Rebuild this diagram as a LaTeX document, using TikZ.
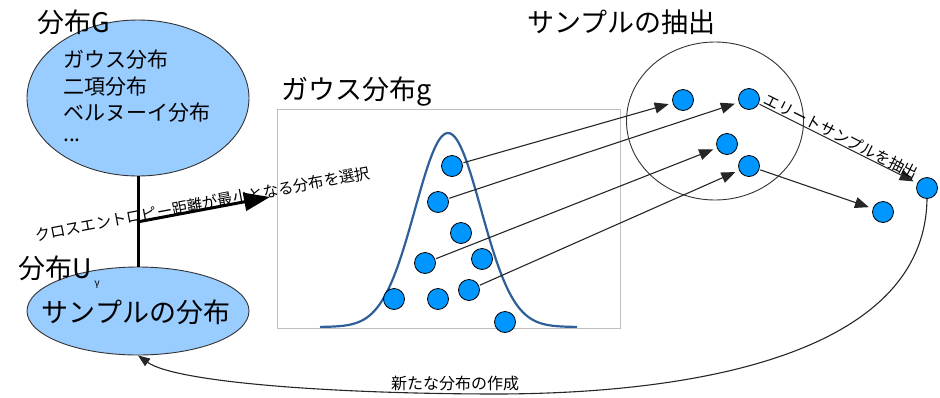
\documentclass[tikz,border=0pt]{standalone}
\usepackage{fontspec}
\setmainfont{Noto Sans CJK JP}
\usetikzlibrary{shapes.geometric,arrows.meta,calc}
\definecolor{ellfill}{HTML}{99CCFF}
\definecolor{dotfill}{HTML}{0096FF}
\definecolor{curveblue}{RGB}{46,95,152}
\definecolor{boxgray}{HTML}{BFBFBF}
\begin{document}
\begin{tikzpicture}[x=1pt,y=-1pt,
  distell/.style={ellipse, draw=black!80, fill=ellfill, line width=0.9pt, inner sep=0pt},
  dotnode/.style={circle, draw=black, fill=dotfill, minimum size=21pt, inner sep=0pt, line width=0.8pt},
  bigtext/.style={inner sep=0pt, anchor=west, font=\fontsize{27}{27}\selectfont},
  midtext/.style={inner sep=0pt, anchor=west, font=\fontsize{21}{21}\selectfont},
  smalllabel/.style={inner sep=0pt, font=\fontsize{15.5}{15.5}\selectfont},
  samplearrow/.style={draw=black!85, line width=1.1pt, -{Triangle[length=14pt,width=11pt]}, shorten >=4pt, shorten <=1pt},
  thickarrow/.style={draw=black, line width=3pt, -{Triangle[length=26pt,width=18pt]}},
  backarrow/.style={draw=black!85, line width=1.1pt, -{Triangle[length=12pt,width=9pt]}}
]
\useasboundingbox (0,0) rectangle (940,397);

% left ellipses
\node[distell, minimum width=222pt, minimum height=156pt] (G) at (138,98) {};
\node[distell, minimum width=222pt, minimum height=88pt] (U) at (138,311) {};
\node[bigtext] (tG) at (37,22) {分布G};
\node[midtext] (g1) at (63,60) {ガウス分布};
\node[midtext] (g2) at (63,87) {二項分布};
\node[midtext] (g3) at (63,113) {ベルヌーイ分布};
\node[midtext] (g4) at (63,140) {...};
\node[bigtext] (tU) at (18,268) {分布U};
\node[inner sep=0pt, font=\fontsize{10}{10}\selectfont] (gam) at (97,285) {γ};
\node[inner sep=0pt, font=\fontsize{27}{27}\selectfont] (uText) at (136,312) {サンプルの分布};

% link G-U and thick arrow
\draw[line width=3pt] (G.south) -- (U.north);
\coordinate (j) at (137,222);
\coordinate (k) at (270,197);
\draw[thickarrow] (j) -- (k)
  node[midway, sloped, above=-3pt, smalllabel] (lab1) {クロスエントロピー距離が最小となる分布を選択};

% gaussian box
\node[draw=boxgray, line width=1pt, minimum width=343pt, minimum height=219pt, inner sep=0pt] (box) at (448.5,218.5) {};
\node[bigtext] (tg) at (281,92) {ガウス分布g};
\draw[curveblue, line width=2.2pt] plot[domain=320:577, samples=100, smooth] (\x, {327-194*exp(-((\x-448)/33)^2/2)});

\node[dotnode] (d1) at (452,166) {};
\node[dotnode] (d2) at (438,202) {};
\node[dotnode] (d3) at (461,233) {};
\node[dotnode] (d4) at (425,263) {};
\node[dotnode] (d5) at (482,259) {};
\node[dotnode] (d6) at (394,299) {};
\node[dotnode] (d7) at (438,299) {};
\node[dotnode] (d8) at (469,290) {};
\node[dotnode] (d9) at (505,322) {};

% sample circle
\node[ellipse, draw=black!80, line width=0.9pt, minimum width=177pt, minimum height=158pt, inner sep=0pt] (S) at (715,121) {};
\node[bigtext] (tS) at (527,22) {サンプルの抽出};

\node[dotnode] (r1) at (683,100) {};
\node[dotnode] (r2) at (749,99) {};
\node[dotnode] (r3) at (727,144) {};
\node[dotnode] (r4) at (749,166) {};
\node[dotnode] (r5) at (883,212) {};
\node[dotnode] (r6) at (927,188) {};

\draw[samplearrow] (d1) -- (r1);
\draw[samplearrow] (d2) -- (r2);
\draw[samplearrow] (d4) -- (r3);
\draw[samplearrow] (d8) -- (r4);
\draw[samplearrow] (r2) -- (r6)
  node[midway, sloped, above=0pt, smalllabel] (lab2) {エリートサンプルを抽出};
\draw[samplearrow] (r4) -- (r5);

% back arrow
\coordinate (low) at (500,394);
\draw[backarrow] (r6.south) .. controls (925,345) and (720,393) .. (low)
  .. controls (330,394) and (175,382) .. (U.south);
\node[inner sep=0pt, font=\fontsize{16}{16}\selectfont] (lab3) at (455,383) {新たな分布の作成};
\end{tikzpicture}
\end{document}
